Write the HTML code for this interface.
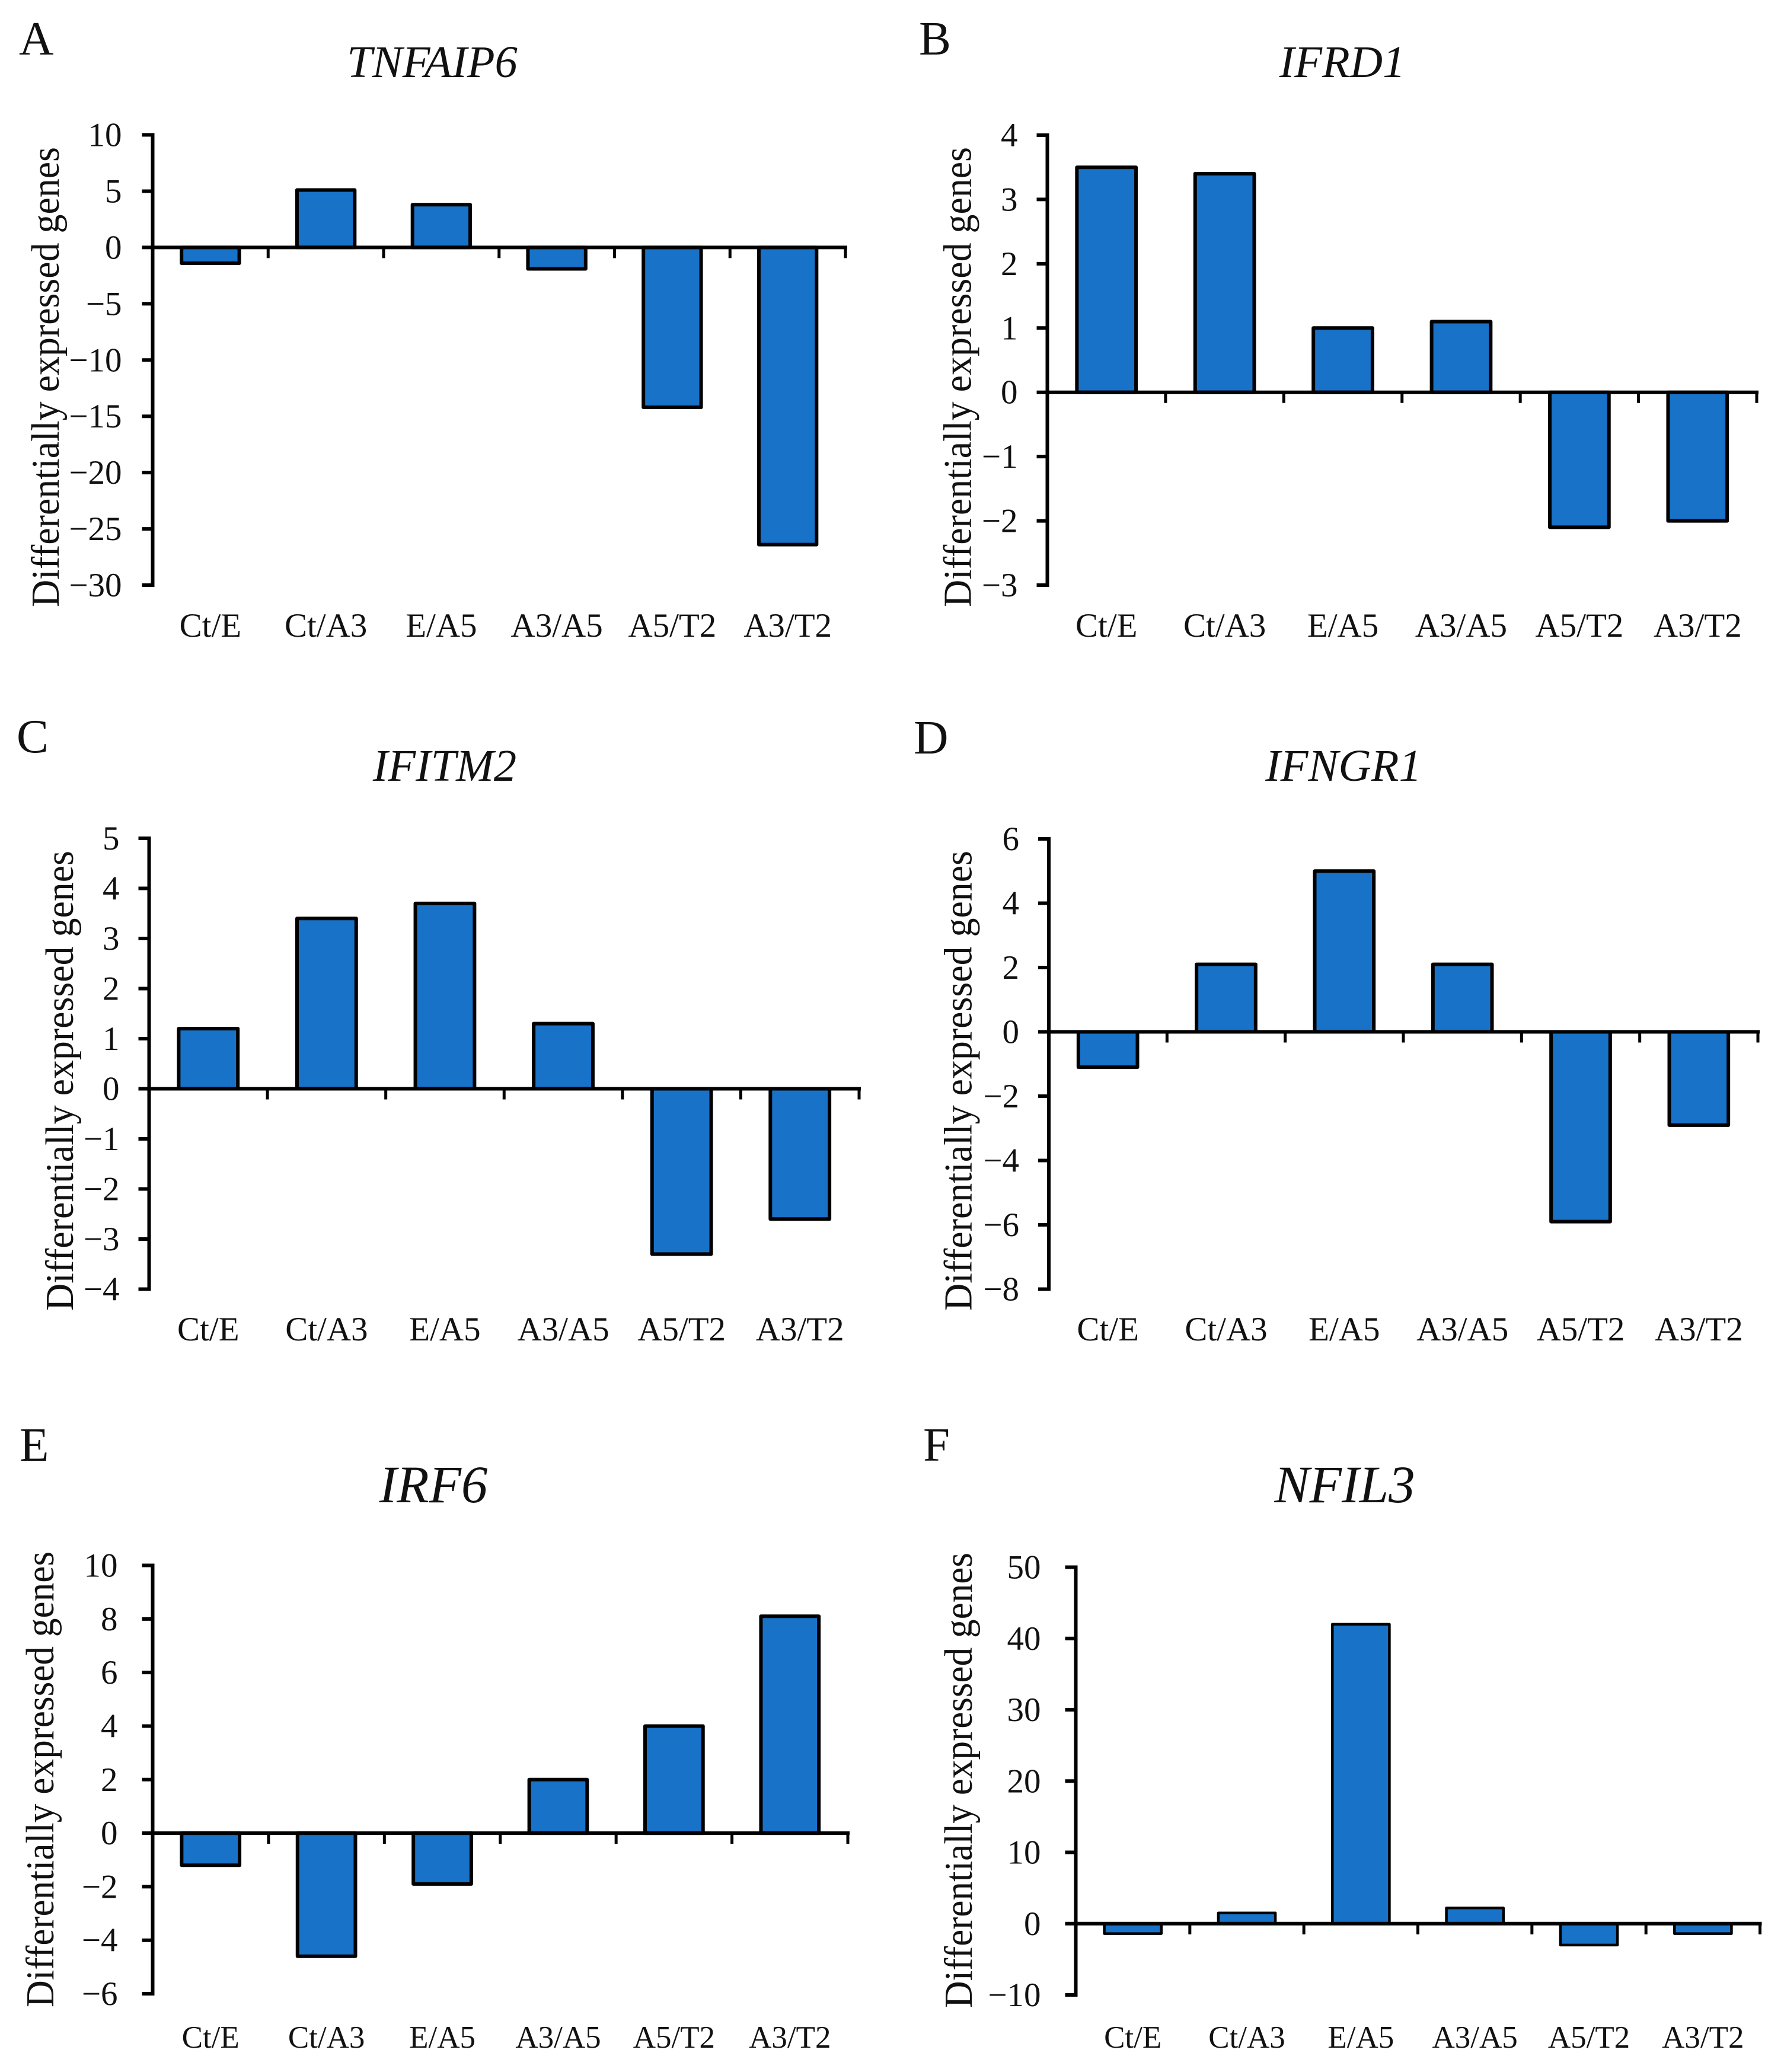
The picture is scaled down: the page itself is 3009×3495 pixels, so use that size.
<!DOCTYPE html>
<html lang="en">
<head>
<meta charset="utf-8">
<title>Differentially expressed genes</title>
<style>
html,body{margin:0;padding:0;background:#fff;}
svg{display:block;}
text{font-family:"Liberation Serif",serif;fill:#111;}
.letter{font-size:81px;}
.title{font-style:italic;text-anchor:middle;}
</style>
</head>
<body>
<svg id="figure" xmlns="http://www.w3.org/2000/svg" width="3009" height="3495" viewBox="0 0 3009 3495">
  <rect x="0" y="0" width="3009" height="3495" fill="#ffffff"/>

  <text class="letter" x="32" y="92">A</text>
  <text class="title" x="729" y="130" font-size="76.5">TNFAIP6</text>
  <text class="letter" x="1550" y="92">B</text>
  <text class="title" x="2264" y="130" font-size="76.5">IFRD1</text>
  <text class="letter" x="28" y="1269">C</text>
  <text class="title" x="750" y="1317" font-size="76.5">IFITM2</text>
  <text class="letter" x="1541" y="1271">D</text>
  <text class="title" x="2266" y="1317" font-size="76.5">IFNGR1</text>
  <text class="letter" x="33" y="2464">E</text>
  <text class="title" x="731" y="2534" font-size="89">IRF6</text>
  <text class="letter" x="1557" y="2464">F</text>
  <text class="title" x="2268" y="2534" font-size="89">NFIL3</text>

  <text transform="translate(99,636) rotate(-90)" text-anchor="middle" font-size="67" textLength="776" lengthAdjust="spacingAndGlyphs">Differentially expressed genes</text>
  <text transform="translate(1637.5,636) rotate(-90)" text-anchor="middle" font-size="67" textLength="776" lengthAdjust="spacingAndGlyphs">Differentially expressed genes</text>
  <text transform="translate(123,1823) rotate(-90)" text-anchor="middle" font-size="67" textLength="776" lengthAdjust="spacingAndGlyphs">Differentially expressed genes</text>
  <text transform="translate(1638.5,1823) rotate(-90)" text-anchor="middle" font-size="67" textLength="776" lengthAdjust="spacingAndGlyphs">Differentially expressed genes</text>
  <text transform="translate(90,3001.5) rotate(-90)" text-anchor="middle" font-size="67" textLength="769" lengthAdjust="spacingAndGlyphs">Differentially expressed genes</text>
  <text transform="translate(1639,3003) rotate(-90)" text-anchor="middle" font-size="67" textLength="768" lengthAdjust="spacingAndGlyphs">Differentially expressed genes</text>
</svg>

<script>
const categories = ['Ct/E', 'Ct/A3', 'E/A5', 'A3/A5', 'A5/T2', 'A3/T2'];

const tnfaip6Values = [-1.4, 5.1, 3.8, -1.9, -14.2, -26.4];
const ifrd1Values = [3.5, 3.4, 1, 1.1, -2.1, -2];
const ifitm2Values = [1.2, 3.4, 3.7, 1.3, -3.3, -2.6];
const ifngr1Values = [-1.1, 2.1, 5, 2.1, -5.9, -2.9];
const irf6Values = [-1.2, -4.6, -1.9, 2, 4, 8.1];
const nfil3Values = [-1.4, 1.5, 42, 2.2, -3, -1.4];

const tnfaip6Ticks = [10, 5, 0, -5, -10, -15, -20, -25, -30];
const ifrd1Ticks = [4, 3, 2, 1, 0, -1, -2, -3];
const ifitm2Ticks = [5, 4, 3, 2, 1, 0, -1, -2, -3, -4];
const ifngr1Ticks = [6, 4, 2, 0, -2, -4, -6, -8];
const irf6Ticks = [10, 8, 6, 4, 2, 0, -2, -4, -6];
const nfil3Ticks = [50, 40, 30, 20, 10, 0, -10];

const svgNS = 'http://www.w3.org/2000/svg';
const figure = document.getElementById('figure');

function draw(tag, name, attrs, parent, content) {
  const el = document.createElementNS(svgNS, tag);
  
  
  Object.keys(attrs).forEach(function (k) { el.setAttribute(k, attrs[k]); });
  if (content !== undefined) el.textContent = content;
  parent.appendChild(el);
  return el;
}

function yScale(ticks, frame) {
  const hi = Math.max.apply(null, ticks);
  const lo = Math.min.apply(null, ticks);
  return function (v) { return frame.top + (hi - v) / (hi - lo) * (frame.bottom - frame.top); };
}

function xScale(count, frame) {
  const step = (frame.right - frame.left) / count;
  return function (i) { return frame.left + i * step; };
}

function formatTick(v) {
  return v < 0 ? '\u2212' + Math.abs(v) : String(v);
}

function drawPanel(id, values, ticks, frame) {
  const g = draw('g', 'chart-' + id, {}, figure);
  const y = yScale(ticks, frame);
  const x = xScale(categories.length, frame);
  const zero = y(0);
  const barWidth = (x(1) - x(0)) / 2;

  values.forEach(function (v, i) {
    const cx = (x(i) + x(i + 1)) / 2;
    const yv = y(v);
    draw('rect', 'bar-' + id + '-' + categories[i].replace('/', '-').toLowerCase(), {
      x: cx - barWidth / 2,
      y: Math.min(yv, zero),
      width: barWidth,
      height: Math.abs(yv - zero),
      fill: '#1872c8',
      stroke: '#000',
      'stroke-width': frame.barStroke,
      'stroke-linejoin': 'round'
    }, g);
  });

  draw('line', 'y-axis-' + id, { x1: frame.left, x2: frame.left, y1: frame.top - 3, y2: frame.bottom + 3, stroke: '#000', 'stroke-width': 6 }, g);
  draw('line', 'x-axis-' + id, { x1: frame.left, x2: frame.right + 3, y1: zero, y2: zero, stroke: '#000', 'stroke-width': 6 }, g);

  ticks.forEach(function (t) {
    draw('line', 'y-tick-' + id, { x1: frame.left - 18, x2: frame.left, y1: y(t), y2: y(t), stroke: '#000', 'stroke-width': 6 }, g);
    draw('text', 'y-tick-label-' + id, {
      x: frame.left - frame.labelGap,
      y: y(t) + 19,
      'text-anchor': 'end',
      'font-size': frame.tickFont
    }, g, formatTick(t));
  });

  categories.forEach(function (c, i) {
    draw('line', 'x-tick-' + id, { x1: x(i + 1), x2: x(i + 1), y1: zero, y2: zero + 18, stroke: '#000', 'stroke-width': 5 }, g);
    draw('text', 'x-tick-label-' + id, {
      x: (x(i) + x(i + 1)) / 2,
      y: frame.labelY,
      'text-anchor': 'middle',
      'font-size': frame.catFont
    }, g, c);
  });
}

drawPanel('tnfaip6', tnfaip6Values, tnfaip6Ticks, { left: 257.5, right: 1426, top: 227.5, bottom: 987, labelY: 1074, labelGap: 52, tickFont: 57, catFont: 57, barStroke: 6 });
drawPanel('ifrd1', ifrd1Values, ifrd1Ticks, { left: 1766.5, right: 2963, top: 228, bottom: 987, labelY: 1074, labelGap: 50, tickFont: 57, catFont: 57, barStroke: 6 });
drawPanel('ifitm2', ifitm2Values, ifitm2Ticks, { left: 251.5, right: 1449, top: 1414, bottom: 2174.5, labelY: 2261, labelGap: 50, tickFont: 57, catFont: 57, barStroke: 6 });
drawPanel('ifngr1', ifngr1Values, ifngr1Ticks, { left: 1769, right: 2965, top: 1415, bottom: 2174.5, labelY: 2261, labelGap: 50, tickFont: 57, catFont: 57, barStroke: 6 });
drawPanel('irf6', irf6Values, irf6Ticks, { left: 257.5, right: 1430, top: 2640.5, bottom: 3363, labelY: 3454, labelGap: 59, tickFont: 57, catFont: 53, barStroke: 6 });
drawPanel('nfil3', nfil3Values, nfil3Ticks, { left: 1814.5, right: 2968.5, top: 2643.5, bottom: 3365, labelY: 3454, labelGap: 59, tickFont: 57, catFont: 53, barStroke: 4.5 });
</script>
</body>
</html>
